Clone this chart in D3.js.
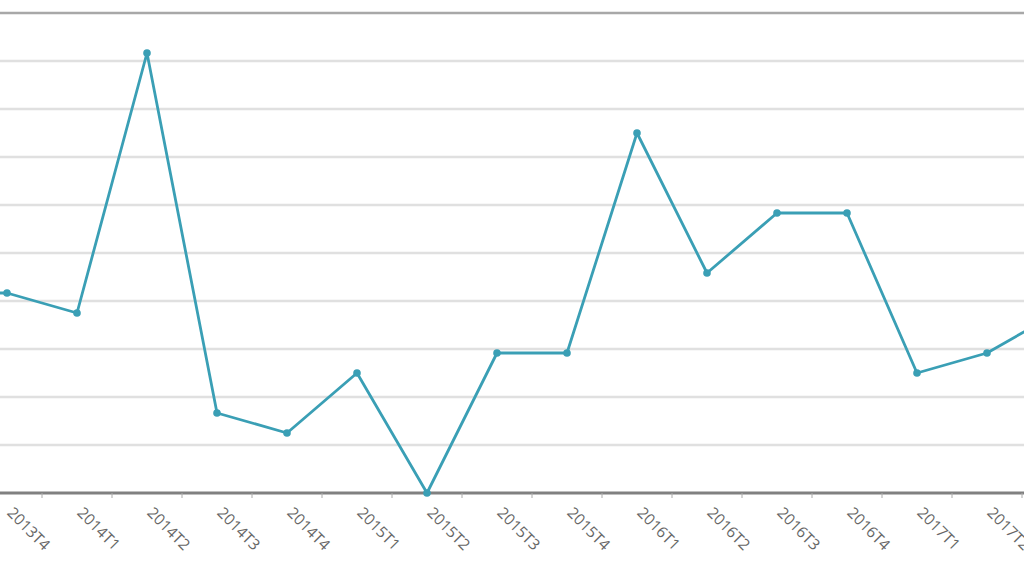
<!DOCTYPE html>
<html>
<head>
<meta charset="utf-8">
<script src="https://cdn.jsdelivr.net/npm/d3@7"></script>
<style>
  body { margin: 0; background: #fff; }
  svg { display: block; font-family: "Open Sans", "DejaVu Sans", sans-serif; }
</style>
</head>
<body>
<div class="chart"></div>
<script>
// quarters (first and last sit partly outside the visible crop)
var quarters = ["2013T3", "2013T4", "2014T1", "2014T2", "2014T3", "2014T4",
    "2015T1", "2015T2", "2015T3", "2015T4", "2016T1", "2016T2",
    "2016T3", "2016T4", "2017T1", "2017T2", "2017T3"];
var values = [10, 10, 9, 22, 4, 3, 6, 0, 7, 7, 18, 11, 14, 14, 6, 7, 9];
var yDomain = [0, 24];
var yTickCount = 10;

var width = 1024,
    height = 576;

var svg = d3.select(".chart")
    .append("svg")
    .attr("width", width)
    .attr("height", height);

// band scale, points sit in the middle of each band
var x = d3.scaleBand()
    .domain(quarters)
    .range([-98, -98 + quarters.length * 70]);

var y = d3.scaleLinear()
    .domain(yDomain)
    .range([493, 13]);

var gridTicks = d3.range(yTickCount + 1).map(function (i) {
    return yDomain[0] + i * (yDomain[1] - yDomain[0]) / yTickCount;
});

// gridlines
svg.append("g")
    .selectAll("line")
    .data(gridTicks.slice(1, -1))
    .enter().append("line")
    .attr("x1", 0)
    .attr("x2", width)
    .attr("y1", function (d) { return y(d); })
    .attr("y2", function (d) { return y(d); })
    .style("stroke", "#e0e0e0")
    .style("stroke-width", 2.5);

// top border
svg.append("line")
    .attr("x1", 0).attr("x2", width)
    .attr("y1", y(yDomain[1])).attr("y2", y(yDomain[1]))
    .style("stroke", "#a8a8a8")
    .style("stroke-width", 2.5);

// x axis
var xAxis = svg.append("g")
    .attr("transform", "translate(0," + y(yDomain[0]) + ")");

xAxis.append("line")
    .attr("x1", 0).attr("x2", width)
    .style("stroke", "#808080")
    .style("stroke-width", 3);

xAxis.selectAll(".tick")
    .data(quarters)
    .enter().append("line")
    .attr("class", "tick")
    .attr("x1", function (d) { return x(d) + x.bandwidth(); })
    .attr("x2", function (d) { return x(d) + x.bandwidth(); })
    .attr("y1", 0)
    .attr("y2", 5)
    .style("stroke", "#aaa")
    .style("stroke-width", 1);

xAxis.selectAll("text")
    .data(quarters)
    .enter().append("text")
    .attr("transform", function (d) {
        var cx = x(d) + x.bandwidth() / 2;
        return "translate(" + (cx + 3) + ",17) rotate(45)";
    })
    .attr("dy", "0.35em")
    .style("font-size", "15.5px")
    .style("fill", "#666")
    .text(function (d) { return d; });

// line
var line = d3.line()
    .x(function (d, i) { return x(quarters[i]) + x.bandwidth() / 2; })
    .y(function (d) { return y(d); });

svg.append("path")
    .datum(values)
    .attr("d", line)
    .style("fill", "none")
    .style("stroke", "#3a9fb5")
    .style("stroke-width", 2.8)
    .style("stroke-linejoin", "round");

svg.append("g")
    .selectAll("circle")
    .data(values)
    .enter().append("circle")
    .attr("cx", function (d, i) { return x(quarters[i]) + x.bandwidth() / 2; })
    .attr("cy", function (d) { return y(d); })
    .attr("r", 3.8)
    .style("fill", "#3a9fb5");
</script>
</body>
</html>
